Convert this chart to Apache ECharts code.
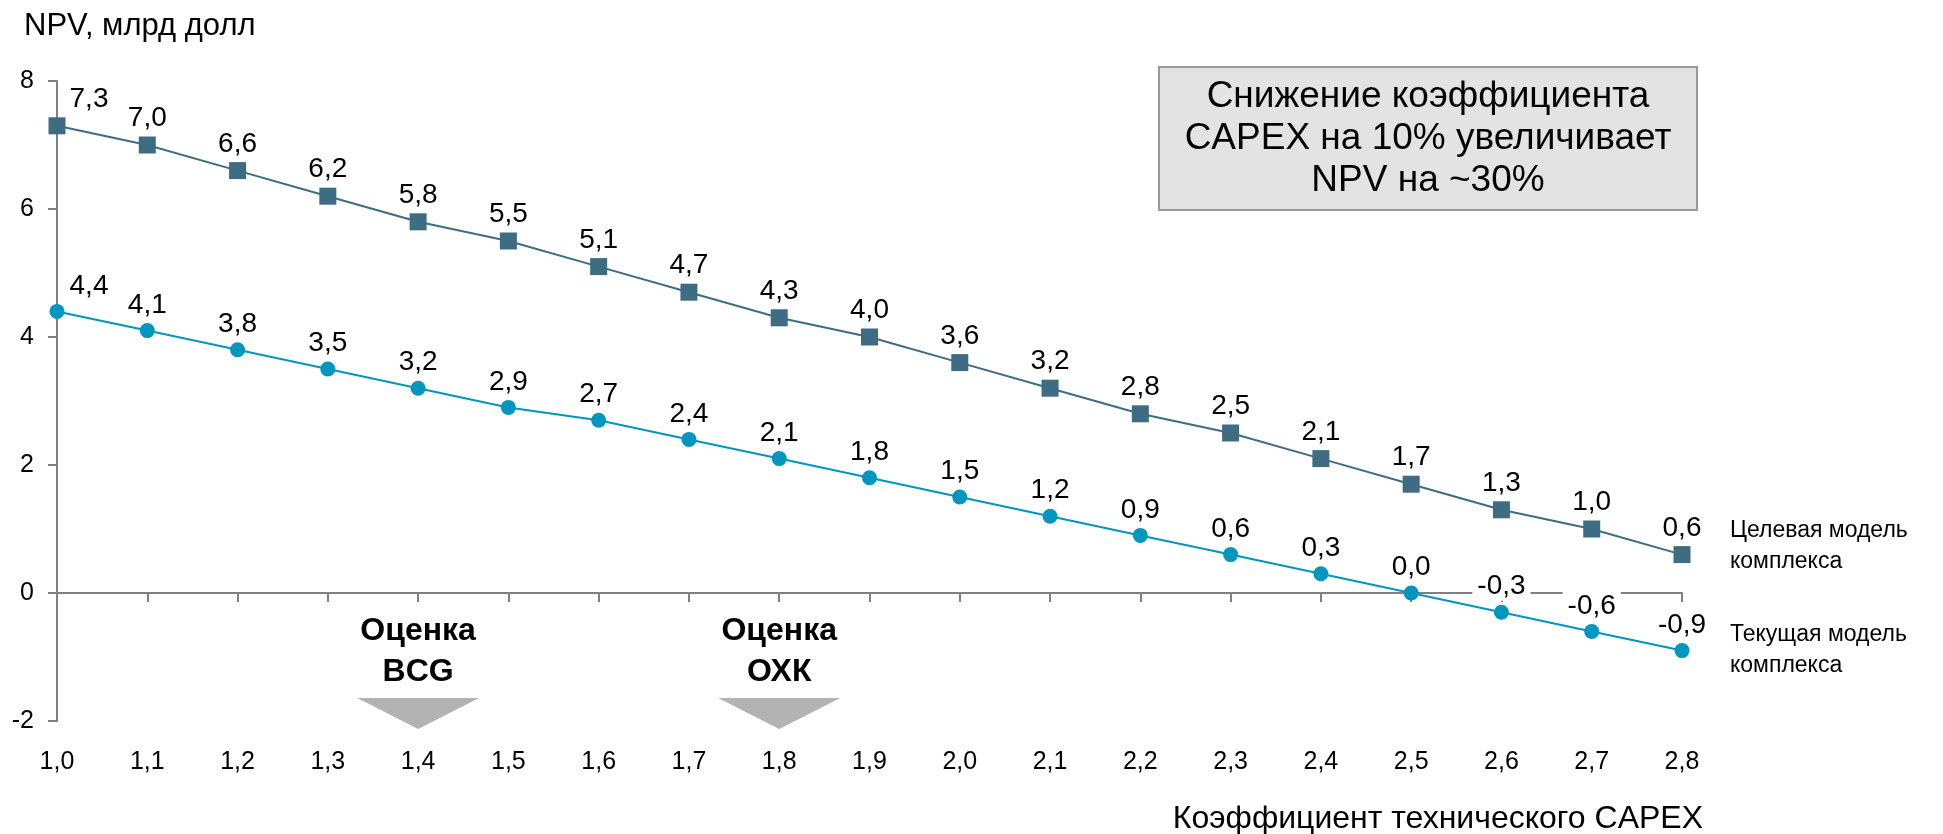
<!DOCTYPE html>
<html>
<head>
<meta charset="utf-8">
<script src="https://cdn.jsdelivr.net/npm/echarts@6/dist/echarts.min.js"></script>
<style>
  html, body { margin: 0; padding: 0; background: #fff; }
  #chart { width: 1943px; height: 834px; }
</style>
</head>
<body>
<div id="chart"></div>
<script>
// Technical CAPEX coefficient (x categories)
const categories = ['1,0','1,1','1,2','1,3','1,4','1,5','1,6','1,7','1,8','1,9',
                    '2,0','2,1','2,2','2,3','2,4','2,5','2,6','2,7','2,8'];
// NPV, bn USD
const targetModel = [7.3, 7.0, 6.6, 6.2, 5.8, 5.5, 5.1, 4.7, 4.3, 4.0, 3.6, 3.2, 2.8, 2.5, 2.1, 1.7, 1.3, 1.0, 0.6];
const currentModel = [4.4, 4.1, 3.8, 3.5, 3.2, 2.9, 2.7, 2.4, 2.1, 1.8, 1.5, 1.2, 0.9, 0.6, 0.3, 0.0, -0.3, -0.6, -0.9];
const seriesNames = ['Целевая модель\nкомплекса', 'Текущая модель\nкомплекса'];
const yTicks = { min: -2, max: 8, interval: 2 };
const estimates = [
  { cat: '1,4', text: 'Оценка\nBCG' },
  { cat: '1,8', text: 'Оценка\nОХК' }
];
const noteText = 'Снижение коэффициента\nCAPEX на 10% увеличивает\nNPV на ~30%';
const yTitle = 'NPV, млрд долл';
const xTitle = 'Коэффициент технического CAPEX';

const FONT = '"Liberation Sans", Arial, sans-serif';
const AXIS_GREY = '#808080';
const C_TARGET = '#3e6c82';
const C_CURRENT = '#0096be';

const fmt = v => v.toFixed(1).replace('.', ',');

function withFirstOffset(values) {
  return values.map((v, i) => i === 0 ? { value: v, label: { offset: [32, 0] } } : v);
}

const chart = echarts.init(document.getElementById('chart'), null, { renderer: 'canvas' });

const labelStyle = {
  show: true,
  position: 'top',
  distance: 4,
  fontFamily: FONT,
  fontSize: 28,
  color: '#000',
  backgroundColor: '#fff',
  padding: [0, 5],
  formatter: p => fmt(p.value)
};

const endLabelStyle = {
  show: true,
  formatter: p => p.seriesName,
  distance: 48,
  fontFamily: FONT,
  fontSize: 23,
  lineHeight: 31,
  color: '#000',
  align: 'left'
};

chart.setOption({
  animation: false,
  backgroundColor: '#fff',
  title: {
    text: yTitle,
    left: 19,
    top: 6,
    textStyle: { fontFamily: FONT, fontSize: 31, fontWeight: 'normal', color: '#000' }
  },
  grid: { left: 57, right: 261, top: 81, bottom: 113, containLabel: false },
  xAxis: [
    {
      type: 'category',
      data: categories,
      boundaryGap: false,
      position: 'bottom',
      axisLine: { show: false, onZero: false },
      axisTick: { show: false },
      axisLabel: { fontFamily: FONT, fontSize: 25, color: '#000', margin: 29, interval: 0 }
    },
    {
      type: 'category',
      data: categories,
      boundaryGap: false,
      position: 'bottom',
      axisLine: { show: true, onZero: true, lineStyle: { color: AXIS_GREY, width: 2 } },
      axisTick: { show: true, length: 9, interval: 0, lineStyle: { color: AXIS_GREY, width: 2 } },
      axisLabel: { show: false }
    }
  ],
  yAxis: {
    type: 'value',
    min: yTicks.min,
    max: yTicks.max,
    interval: yTicks.interval,
    axisLine: { show: true, lineStyle: { color: AXIS_GREY, width: 2 } },
    axisTick: { show: true, length: 9, lineStyle: { color: AXIS_GREY, width: 2 } },
    splitLine: { show: false },
    axisLabel: { fontFamily: FONT, fontSize: 25, color: '#000', margin: 23 }
  },
  series: [
    {
      name: seriesNames[0],
      type: 'line',
      xAxisIndex: 0,
      data: withFirstOffset(targetModel),
      symbol: 'rect',
      symbolSize: 17,
      itemStyle: { color: C_TARGET },
      lineStyle: { color: C_TARGET, width: 2 },
      label: labelStyle,
      endLabel: Object.assign({}, endLabelStyle, { offset: [0, -8] }),
      z: 3
    },
    {
      name: seriesNames[1],
      type: 'line',
      xAxisIndex: 0,
      data: withFirstOffset(currentModel),
      symbol: 'circle',
      symbolSize: 15,
      itemStyle: { color: C_CURRENT },
      lineStyle: { color: C_CURRENT, width: 2 },
      label: labelStyle,
      endLabel: endLabelStyle,
      z: 3
    }
  ]
});

// Annotations: callout box, estimate markers and x-axis title
function drawGraphics() {
  const elements = [];

  elements.push({
    type: 'rect',
    shape: { x: 1159, y: 67, width: 538, height: 143 },
    style: { fill: '#e3e3e3', stroke: '#999', lineWidth: 2 },
    z: 10
  });
  elements.push({
    type: 'text',
    x: 1428, y: 139,
    style: {
      text: noteText,
      fontFamily: FONT, fontSize: 37, lineHeight: 42,
      fill: '#000', align: 'center', verticalAlign: 'middle'
    },
    z: 11
  });

  const triTop = chart.convertToPixel({ yAxisIndex: 0 }, -1.64);
  estimates.forEach(e => {
    const cx = chart.convertToPixel({ xAxisIndex: 0 }, e.cat);
    elements.push({
      type: 'text',
      x: cx, y: triTop - 5,
      style: {
        text: e.text,
        fontFamily: FONT, fontSize: 32, fontWeight: 'bold', lineHeight: 41,
        fill: '#000', align: 'center', verticalAlign: 'bottom'
      },
      z: 10
    });
    elements.push({
      type: 'polygon',
      shape: { points: [[cx - 61, triTop], [cx + 61, triTop], [cx, triTop + 31]] },
      style: { fill: '#b3b3b3' },
      z: 10
    });
  });

  elements.push({
    type: 'text',
    x: 1703, y: 819,
    style: {
      text: xTitle,
      fontFamily: FONT, fontSize: 32,
      fill: '#000', align: 'right', verticalAlign: 'middle'
    },
    z: 10
  });

  chart.setOption({ graphic: { elements } });
}
drawGraphics();
</script>
</body>
</html>
